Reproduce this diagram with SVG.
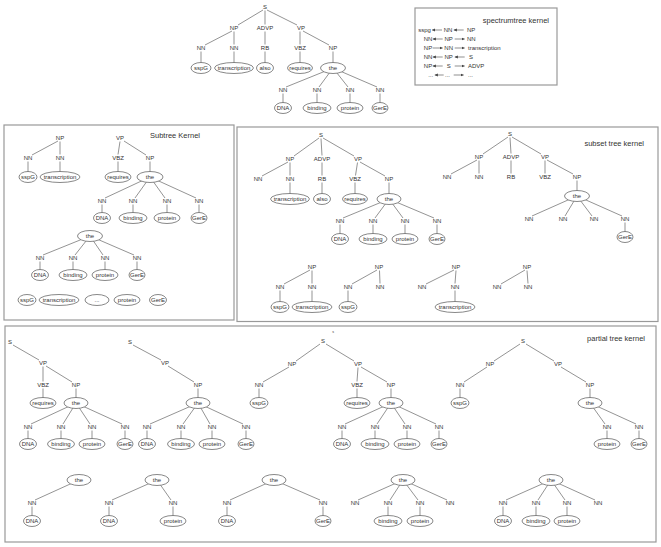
<svg xmlns="http://www.w3.org/2000/svg" width="661" height="547" viewBox="0 0 661 547">
<defs>
<marker id="ah" viewBox="0 0 6 6" refX="6" refY="3" markerWidth="3.2" markerHeight="3.2" orient="auto" markerUnits="userSpaceOnUse"><path d="M0,0 L6,3 L0,6 z" fill="#444"/></marker>
</defs>
<style>
text{font-family:"Liberation Sans",Arial,sans-serif;fill:#333;text-anchor:middle;dominant-baseline:central;font-size:6px}
.ttl{font-size:7.5px;text-anchor:end}
.s{text-anchor:start}
ellipse{fill:#fff;stroke:#555;stroke-width:0.7}
.box{fill:none;stroke:#999;stroke-width:1.2}
#connectors line{stroke:#666;stroke-width:0.7}
#spec line{stroke:#444;stroke-width:0.6;marker-end:url(#ah)}
</style>
<rect width="661" height="547" fill="#fff"/>

<g id="frames">
<rect class="box" x="415" y="8" width="142" height="77"/>
<rect class="box" x="4" y="125" width="230" height="195"/>
<rect class="box" x="237" y="127" width="421" height="194.5"/>
<rect class="box" x="5" y="326" width="651" height="216"/>
</g>

<g id="connectors">
<line x1="263" y1="10" x2="238" y2="25"/><line x1="265" y1="10.5" x2="265" y2="24.5"/><line x1="267" y1="10" x2="297" y2="25"/>
<line x1="232" y1="31" x2="205" y2="45"/><line x1="234" y1="31.5" x2="234" y2="44.5"/><line x1="265" y1="31.5" x2="265" y2="44.5"/>
<line x1="300" y1="31.5" x2="300" y2="44.5"/><line x1="303" y1="31" x2="329" y2="45"/>
<line x1="201" y1="51.5" x2="201" y2="68"/><line x1="234" y1="51.5" x2="234" y2="68"/><line x1="265" y1="51.5" x2="265" y2="68"/><line x1="300" y1="51.5" x2="300" y2="68"/><line x1="333" y1="51.5" x2="333" y2="68"/>
<line x1="333" y1="68" x2="286" y2="87"/><line x1="333" y1="68" x2="319" y2="87"/><line x1="333" y1="68" x2="348" y2="87"/><line x1="333" y1="68" x2="377" y2="87"/>
<line x1="283" y1="93.5" x2="283" y2="108"/><line x1="317" y1="93.5" x2="317" y2="108"/><line x1="350" y1="93.5" x2="350" y2="108"/><line x1="380" y1="93.5" x2="380" y2="108"/>
<line x1="58" y1="141" x2="32" y2="155"/><line x1="60" y1="141.5" x2="60" y2="154.5"/>
<line x1="28" y1="161.5" x2="28" y2="177"/><line x1="60" y1="161.5" x2="60" y2="177"/>
<line x1="120" y1="141.5" x2="118" y2="154.5"/><line x1="124" y1="141" x2="146" y2="155"/>
<line x1="118" y1="161.5" x2="118" y2="177"/><line x1="150" y1="161.5" x2="150" y2="177"/>
<line x1="150" y1="177" x2="105" y2="198"/><line x1="150" y1="177" x2="135" y2="198"/><line x1="150" y1="177" x2="165" y2="198"/><line x1="150" y1="177" x2="196" y2="198"/>
<line x1="102" y1="204.5" x2="102" y2="218"/><line x1="133" y1="204.5" x2="133" y2="218"/><line x1="167" y1="204.5" x2="167" y2="218"/><line x1="199" y1="204.5" x2="199" y2="218"/>
<line x1="90" y1="236" x2="43" y2="255"/><line x1="90" y1="236" x2="75" y2="255"/><line x1="90" y1="236" x2="103" y2="255"/><line x1="90" y1="236" x2="134" y2="255"/>
<line x1="40" y1="261.5" x2="40" y2="275"/><line x1="73" y1="261.5" x2="73" y2="275"/><line x1="105" y1="261.5" x2="105" y2="275"/><line x1="137" y1="261.5" x2="137" y2="275"/>
<line x1="319" y1="138" x2="294" y2="156"/><line x1="321" y1="138.5" x2="322" y2="155.5"/><line x1="323" y1="138" x2="354" y2="156"/>
<line x1="288" y1="162" x2="262" y2="176"/><line x1="290" y1="162.5" x2="290" y2="175.5"/><line x1="322" y1="162.5" x2="322" y2="175.5"/>
<line x1="357.5" y1="162.5" x2="355.5" y2="175.5"/><line x1="360" y1="162" x2="385" y2="176"/>
<line x1="290" y1="182.5" x2="290" y2="199"/><line x1="322" y1="182.5" x2="322" y2="199"/><line x1="355" y1="182.5" x2="355" y2="199"/><line x1="389" y1="182.5" x2="389" y2="199"/>
<line x1="389" y1="199" x2="343" y2="218"/><line x1="389" y1="199" x2="375" y2="218"/><line x1="389" y1="199" x2="403" y2="218"/><line x1="389" y1="199" x2="434" y2="218"/>
<line x1="340" y1="224.5" x2="340" y2="239"/><line x1="373" y1="224.5" x2="373" y2="239"/><line x1="405" y1="224.5" x2="405" y2="239"/><line x1="437" y1="224.5" x2="437" y2="239"/>
<line x1="508" y1="137" x2="483" y2="154"/><line x1="510" y1="137.5" x2="511" y2="153.5"/><line x1="512" y1="137" x2="541" y2="154"/>
<line x1="477" y1="160" x2="451" y2="174"/><line x1="479" y1="160.5" x2="479" y2="173.5"/><line x1="511" y1="160.5" x2="511" y2="173.5"/>
<line x1="545" y1="160.5" x2="545" y2="173.5"/><line x1="547" y1="160" x2="573" y2="174"/>
<line x1="577" y1="180.5" x2="577" y2="196"/>
<line x1="577" y1="196" x2="532" y2="216"/><line x1="577" y1="196" x2="565" y2="216"/><line x1="577" y1="196" x2="592" y2="216"/><line x1="577" y1="196" x2="622" y2="216"/>
<line x1="625" y1="222.5" x2="625" y2="237"/>
<line x1="310" y1="270" x2="284" y2="284"/><line x1="312" y1="270.5" x2="312" y2="283.5"/><line x1="280" y1="290.5" x2="280" y2="307"/><line x1="312" y1="290.5" x2="312" y2="307"/>
<line x1="377" y1="270" x2="352" y2="284"/><line x1="379.5" y1="270.5" x2="380" y2="283.5"/><line x1="348" y1="290.5" x2="348" y2="307"/>
<line x1="454" y1="270" x2="426" y2="284"/><line x1="456" y1="270.5" x2="455" y2="283.5"/><line x1="455" y1="290.5" x2="455" y2="307"/>
<line x1="525" y1="270" x2="501" y2="284"/><line x1="527" y1="270.5" x2="528" y2="283.5"/>
<line x1="13" y1="345" x2="39" y2="360"/><line x1="43" y1="366.5" x2="43" y2="381.5"/><line x1="46" y1="366" x2="72" y2="382"/>
<line x1="43" y1="388.5" x2="43" y2="403"/><line x1="76" y1="388.5" x2="76" y2="403"/>
<line x1="76" y1="403" x2="31" y2="424"/><line x1="76" y1="403" x2="63" y2="424"/><line x1="76" y1="403" x2="90" y2="424"/><line x1="76" y1="403" x2="122" y2="424"/>
<line x1="28" y1="430.5" x2="28" y2="444"/><line x1="61" y1="430.5" x2="61" y2="444"/><line x1="92" y1="430.5" x2="92" y2="444"/><line x1="125" y1="430.5" x2="125" y2="444"/>
<line x1="133" y1="345" x2="161" y2="360"/><line x1="168" y1="366" x2="194" y2="382"/><line x1="198" y1="388.5" x2="198" y2="403"/>
<line x1="198" y1="403" x2="150" y2="424"/><line x1="198" y1="403" x2="183" y2="424"/><line x1="198" y1="403" x2="210" y2="424"/><line x1="198" y1="403" x2="243" y2="424"/>
<line x1="147" y1="430.5" x2="147" y2="444"/><line x1="181" y1="430.5" x2="181" y2="444"/><line x1="212" y1="430.5" x2="212" y2="444"/><line x1="246" y1="430.5" x2="246" y2="444"/>
<line x1="320" y1="344" x2="296" y2="361"/><line x1="326" y1="344" x2="354" y2="361"/>
<line x1="289" y1="367" x2="263" y2="382"/><line x1="358" y1="367.5" x2="357" y2="381.5"/><line x1="361" y1="367" x2="387" y2="382"/>
<line x1="259" y1="388.5" x2="259" y2="403"/><line x1="357" y1="388.5" x2="357" y2="403"/><line x1="391" y1="388.5" x2="391" y2="403"/>
<line x1="391" y1="403" x2="345" y2="424"/><line x1="391" y1="403" x2="377" y2="424"/><line x1="391" y1="403" x2="405" y2="424"/><line x1="391" y1="403" x2="436" y2="424"/>
<line x1="342" y1="430.5" x2="342" y2="444"/><line x1="375" y1="430.5" x2="375" y2="444"/><line x1="407" y1="430.5" x2="407" y2="444"/><line x1="439" y1="430.5" x2="439" y2="444"/>
<line x1="520" y1="344" x2="494" y2="361"/><line x1="526" y1="344" x2="554" y2="361"/>
<line x1="487" y1="367" x2="464" y2="382"/><line x1="561" y1="367" x2="586" y2="382"/>
<line x1="460" y1="388.5" x2="460" y2="403"/><line x1="590" y1="388.5" x2="590" y2="403"/>
<line x1="590" y1="403" x2="605" y2="424"/><line x1="590" y1="403" x2="636" y2="424"/>
<line x1="607" y1="430.5" x2="607" y2="444"/><line x1="639" y1="430.5" x2="639" y2="444"/>
<line x1="79" y1="480" x2="35" y2="500"/><line x1="32" y1="506.5" x2="32" y2="521"/>
<line x1="157" y1="480" x2="112" y2="500"/><line x1="157" y1="480" x2="171" y2="500"/><line x1="109" y1="506.5" x2="109" y2="521"/><line x1="173" y1="506.5" x2="173" y2="521"/>
<line x1="274" y1="480" x2="230" y2="500"/><line x1="274" y1="480" x2="320" y2="500"/><line x1="227" y1="506.5" x2="227" y2="521"/><line x1="323" y1="506.5" x2="323" y2="521"/>
<line x1="403" y1="480" x2="358" y2="500"/><line x1="403" y1="480" x2="390" y2="500"/><line x1="403" y1="480" x2="418" y2="500"/><line x1="403" y1="480" x2="447" y2="500"/>
<line x1="388" y1="506.5" x2="388" y2="521"/><line x1="420" y1="506.5" x2="420" y2="521"/>
<line x1="551" y1="480" x2="506" y2="500"/><line x1="551" y1="480" x2="538" y2="500"/><line x1="551" y1="480" x2="565" y2="500"/><line x1="551" y1="480" x2="595" y2="500"/>
<line x1="503" y1="506.5" x2="503" y2="521"/><line x1="536" y1="506.5" x2="536" y2="521"/><line x1="567" y1="506.5" x2="567" y2="521"/>
</g>

<g id="tree-top">
<text x="265" y="7">S</text>
<text x="234" y="28">NP</text><text x="265" y="28">ADVP</text><text x="301" y="28">VP</text>
<text x="201" y="48">NN</text><text x="234" y="48">NN</text><text x="265" y="48">RB</text><text x="300" y="48">VBZ</text><text x="333" y="48">NP</text>
<ellipse cx="201" cy="68" rx="10" ry="5.5"/><text x="201" y="68">sspG</text>
<ellipse cx="234" cy="68" rx="19.5" ry="5.5"/><text x="234" y="68">transcription</text>
<ellipse cx="265" cy="68" rx="8.5" ry="5.5"/><text x="265" y="68">also</text>
<ellipse cx="300" cy="68" rx="12.5" ry="5.5"/><text x="300" y="68">requires</text>
<ellipse cx="333" cy="68" rx="12.5" ry="5.5"/><text x="333" y="68">the</text>
<text x="283" y="90">NN</text><text x="317" y="90">NN</text><text x="350" y="90">NN</text><text x="380" y="90">NN</text>
<ellipse cx="283" cy="108" rx="8.5" ry="5.5"/><text x="283" y="108">DNA</text>
<ellipse cx="317" cy="108" rx="14" ry="5.5"/><text x="317" y="108">binding</text>
<ellipse cx="350" cy="108" rx="13" ry="5.5"/><text x="350" y="108">protein</text>
<ellipse cx="380" cy="108" rx="8" ry="5.5"/><text x="380" y="108">GerE</text>
</g>

<g id="spec">
<text class="ttl" x="549" y="20">spectrumtree kernel</text>
<text x="424.5" y="30">sspg</text><line x1="442" y1="30" x2="432" y2="30"/><text x="448" y="30">NN</text><line x1="463.7" y1="30" x2="453.7" y2="30"/><text class="s" x="467" y="30">NP</text>
<text x="428" y="39">NN</text><line x1="442.7" y1="39" x2="432.7" y2="39"/><text x="448.7" y="39">NP</text><line x1="454.7" y1="39" x2="464.7" y2="39"/><text class="s" x="467" y="39">NN</text>
<text x="428" y="48">NP</text><line x1="432.7" y1="48" x2="442.7" y2="48"/><text x="448.7" y="48">NN</text><line x1="454.7" y1="48" x2="464.7" y2="48"/><text class="s" x="468" y="48">transcription</text>
<text x="428" y="57">NN</text><line x1="442.7" y1="57" x2="432.7" y2="57"/><text x="448.7" y="57">NP</text><line x1="464.7" y1="57" x2="454.7" y2="57"/><text class="s" x="469" y="57">S</text>
<text x="428" y="66">NP</text><line x1="442.7" y1="66" x2="432.7" y2="66"/><text x="448.7" y="66">S</text><line x1="454.7" y1="66" x2="464.7" y2="66"/><text class="s" x="468" y="66">ADVP</text>
<text x="430.7" y="75">...</text><line x1="443.7" y1="75" x2="434.7" y2="75"/><text x="447.5" y="75">...</text><line x1="453.7" y1="75" x2="463.7" y2="75"/><text class="s" x="468" y="75">...</text>
</g>

<g id="subtree-kernel">
<text class="ttl" x="200" y="135">Subtree Kernel</text>
<text x="60" y="138">NP</text><text x="28" y="158">NN</text><text x="60" y="158">NN</text>
<ellipse cx="28" cy="177" rx="9" ry="5.5"/><text x="28" y="177">sspG</text>
<ellipse cx="60" cy="177" rx="20" ry="5.5"/><text x="60" y="177">transcription</text>
<text x="120" y="138">VP</text><text x="118" y="158">VBZ</text><text x="150" y="158">NP</text>
<ellipse cx="118" cy="177" rx="13" ry="5.5"/><text x="118" y="177">requires</text>
<ellipse cx="150" cy="177" rx="13" ry="5.5"/><text x="150" y="177">the</text>
<text x="102" y="201">NN</text><text x="133" y="201">NN</text><text x="167" y="201">NN</text><text x="199" y="201">NN</text>
<ellipse cx="102" cy="218" rx="8.5" ry="5.5"/><text x="102" y="218">DNA</text>
<ellipse cx="133" cy="218" rx="14" ry="5.5"/><text x="133" y="218">binding</text>
<ellipse cx="167" cy="218" rx="13" ry="5.5"/><text x="167" y="218">protein</text>
<ellipse cx="199" cy="218" rx="8" ry="5.5"/><text x="199" y="218">GerE</text>
<ellipse cx="90" cy="236" rx="12.5" ry="5.5"/><text x="90" y="236">the</text>
<text x="40" y="258">NN</text><text x="73" y="258">NN</text><text x="105" y="258">NN</text><text x="137" y="258">NN</text>
<ellipse cx="40" cy="275" rx="8.5" ry="5.5"/><text x="40" y="275">DNA</text>
<ellipse cx="73" cy="275" rx="14" ry="5.5"/><text x="73" y="275">binding</text>
<ellipse cx="105" cy="275" rx="13" ry="5.5"/><text x="105" y="275">protein</text>
<ellipse cx="137" cy="275" rx="8" ry="5.5"/><text x="137" y="275">GerE</text>
<ellipse cx="27" cy="300" rx="9" ry="5.5"/><text x="27" y="300">sspG</text>
<ellipse cx="59" cy="300" rx="20" ry="5.5"/><text x="59" y="300">transcription</text>
<ellipse cx="97" cy="300" rx="12" ry="5.5"/><text x="97" y="300">...</text>
<ellipse cx="127" cy="300" rx="13" ry="5.5"/><text x="127" y="300">protein</text>
<ellipse cx="158" cy="300" rx="8.5" ry="5.5"/><text x="158" y="300">GerE</text>
</g>

<g id="subset-tree-kernel">
<text class="ttl" x="644" y="143">subset tree kernel</text>
<text x="321" y="135">S</text>
<text x="290" y="159">NP</text><text x="322" y="159">ADVP</text><text x="358" y="159">VP</text>
<text x="258" y="179">NN</text><text x="290" y="179">NN</text><text x="322" y="179">RB</text><text x="355" y="179">VBZ</text><text x="389" y="179">NP</text>
<ellipse cx="290" cy="199" rx="19.5" ry="5.5"/><text x="290" y="199">transcription</text>
<ellipse cx="322" cy="199" rx="8.5" ry="5.5"/><text x="322" y="199">also</text>
<ellipse cx="355" cy="199" rx="12.5" ry="5.5"/><text x="355" y="199">requires</text>
<ellipse cx="389" cy="199" rx="12" ry="5.5"/><text x="389" y="199">the</text>
<text x="340" y="221">NN</text><text x="373" y="221">NN</text><text x="405" y="221">NN</text><text x="437" y="221">NN</text>
<ellipse cx="340" cy="239" rx="8.5" ry="5.5"/><text x="340" y="239">DNA</text>
<ellipse cx="373" cy="239" rx="14" ry="5.5"/><text x="373" y="239">binding</text>
<ellipse cx="405" cy="239" rx="13" ry="5.5"/><text x="405" y="239">protein</text>
<ellipse cx="437" cy="239" rx="8" ry="5.5"/><text x="437" y="239">GerE</text>
<text x="510" y="134">S</text>
<text x="479" y="157">NP</text><text x="511" y="157">ADVP</text><text x="545" y="157">VP</text>
<text x="447" y="177">NN</text><text x="479" y="177">NN</text><text x="511" y="177">RB</text><text x="545" y="177">VBZ</text><text x="577" y="177">NP</text>
<ellipse cx="577" cy="196" rx="12.5" ry="5.5"/><text x="577" y="196">the</text>
<text x="529" y="219">NN</text><text x="563" y="219">NN</text><text x="594" y="219">NN</text><text x="625" y="219">NN</text>
<ellipse cx="625" cy="237" rx="8" ry="5.5"/><text x="625" y="237">GerE</text>
<text x="312" y="267">NP</text><text x="280" y="287">NN</text><text x="312" y="287">NN</text>
<ellipse cx="280" cy="307" rx="9" ry="5.5"/><text x="280" y="307">sspG</text>
<ellipse cx="312" cy="307" rx="20" ry="5.5"/><text x="312" y="307">transcription</text>
<text x="379" y="267">NP</text><text x="348" y="287">NN</text><text x="380" y="287">NN</text>
<ellipse cx="348" cy="307" rx="9" ry="5.5"/><text x="348" y="307">sspG</text>
<text x="456" y="267">NP</text><text x="422" y="287">NN</text><text x="455" y="287">NN</text>
<ellipse cx="455" cy="307" rx="20" ry="5.5"/><text x="455" y="307">transcription</text>
<text x="527" y="267">NP</text><text x="497" y="287">NN</text><text x="528" y="287">NN</text>
</g>

<g id="partial-tree-kernel">
<text class="ttl" x="645" y="338">partial tree kernel</text>
<text x="333" y="332" style="font-size:3.5px">s</text>
<text x="10" y="342">S</text><text x="43" y="363">VP</text><text x="43" y="385">VBZ</text><text x="76" y="385">NP</text>
<ellipse cx="43" cy="403" rx="13" ry="5.5"/><text x="43" y="403">requires</text>
<ellipse cx="76" cy="403" rx="12" ry="5.5"/><text x="76" y="403">the</text>
<text x="28" y="427">NN</text><text x="61" y="427">NN</text><text x="92" y="427">NN</text><text x="125" y="427">NN</text>
<ellipse cx="28" cy="444" rx="8.5" ry="5.5"/><text x="28" y="444">DNA</text>
<ellipse cx="61" cy="444" rx="13.5" ry="5.5"/><text x="61" y="444">binding</text>
<ellipse cx="92" cy="444" rx="13" ry="5.5"/><text x="92" y="444">protein</text>
<ellipse cx="125" cy="444" rx="8" ry="5.5"/><text x="125" y="444">GerE</text>

<text x="130" y="342">S</text><text x="165" y="363">VP</text><text x="198" y="385">NP</text>
<ellipse cx="198" cy="403" rx="12" ry="5.5"/><text x="198" y="403">the</text>
<text x="147" y="427">NN</text><text x="181" y="427">NN</text><text x="212" y="427">NN</text><text x="246" y="427">NN</text>
<ellipse cx="147" cy="444" rx="8.5" ry="5.5"/><text x="147" y="444">DNA</text>
<ellipse cx="181" cy="444" rx="13.5" ry="5.5"/><text x="181" y="444">binding</text>
<ellipse cx="212" cy="444" rx="13" ry="5.5"/><text x="212" y="444">protein</text>
<ellipse cx="246" cy="444" rx="8" ry="5.5"/><text x="246" y="444">GerE</text>

<text x="323" y="341">S</text><text x="292" y="364">NP</text><text x="358" y="364">VP</text>
<text x="259" y="385">NN</text><text x="357" y="385">VBZ</text><text x="391" y="385">NP</text>
<ellipse cx="259" cy="403" rx="9" ry="5.5"/><text x="259" y="403">sspG</text>
<ellipse cx="357" cy="403" rx="13" ry="5.5"/><text x="357" y="403">requires</text>
<ellipse cx="391" cy="403" rx="12" ry="5.5"/><text x="391" y="403">the</text>
<text x="342" y="427">NN</text><text x="375" y="427">NN</text><text x="407" y="427">NN</text><text x="439" y="427">NN</text>
<ellipse cx="342" cy="444" rx="8.5" ry="5.5"/><text x="342" y="444">DNA</text>
<ellipse cx="375" cy="444" rx="14" ry="5.5"/><text x="375" y="444">binding</text>
<ellipse cx="407" cy="444" rx="13" ry="5.5"/><text x="407" y="444">protein</text>
<ellipse cx="439" cy="444" rx="8" ry="5.5"/><text x="439" y="444">GerE</text>

<text x="523" y="341">S</text><text x="490" y="364">NP</text><text x="558" y="364">VP</text>
<text x="460" y="385">NN</text><text x="590" y="385">NP</text>
<ellipse cx="460" cy="403" rx="9" ry="5.5"/><text x="460" y="403">sspG</text>
<ellipse cx="590" cy="403" rx="12" ry="5.5"/><text x="590" y="403">the</text>
<text x="607" y="427">NN</text><text x="639" y="427">NN</text>
<ellipse cx="607" cy="444" rx="13" ry="5.5"/><text x="607" y="444">protein</text>
<ellipse cx="639" cy="444" rx="8" ry="5.5"/><text x="639" y="444">GerE</text>

<ellipse cx="79" cy="480" rx="12" ry="5.5"/><text x="79" y="480">the</text>
<text x="32" y="503">NN</text>
<ellipse cx="32" cy="521" rx="8.5" ry="5.5"/><text x="32" y="521">DNA</text>

<ellipse cx="157" cy="480" rx="12" ry="5.5"/><text x="157" y="480">the</text>
<text x="109" y="503">NN</text><text x="173" y="503">NN</text>
<ellipse cx="109" cy="521" rx="8.5" ry="5.5"/><text x="109" y="521">DNA</text>
<ellipse cx="173" cy="521" rx="13" ry="5.5"/><text x="173" y="521">protein</text>

<ellipse cx="274" cy="480" rx="12" ry="5.5"/><text x="274" y="480">the</text>
<text x="227" y="503">NN</text><text x="323" y="503">NN</text>
<ellipse cx="227" cy="521" rx="8.5" ry="5.5"/><text x="227" y="521">DNA</text>
<ellipse cx="323" cy="521" rx="8" ry="5.5"/><text x="323" y="521">GerE</text>

<ellipse cx="403" cy="480" rx="12" ry="5.5"/><text x="403" y="480">the</text>
<text x="355" y="503">NN</text><text x="388" y="503">NN</text><text x="420" y="503">NN</text><text x="450" y="503">NN</text>
<ellipse cx="388" cy="521" rx="14" ry="5.5"/><text x="388" y="521">binding</text>
<ellipse cx="420" cy="521" rx="13" ry="5.5"/><text x="420" y="521">protein</text>

<ellipse cx="551" cy="480" rx="12" ry="5.5"/><text x="551" y="480">the</text>
<text x="503" y="503">NN</text><text x="536" y="503">NN</text><text x="567" y="503">NN</text><text x="598" y="503">NN</text>
<ellipse cx="503" cy="521" rx="8.5" ry="5.5"/><text x="503" y="521">DNA</text>
<ellipse cx="536" cy="521" rx="14" ry="5.5"/><text x="536" y="521">binding</text>
<ellipse cx="567" cy="521" rx="13" ry="5.5"/><text x="567" y="521">protein</text>
</g>
</svg>
